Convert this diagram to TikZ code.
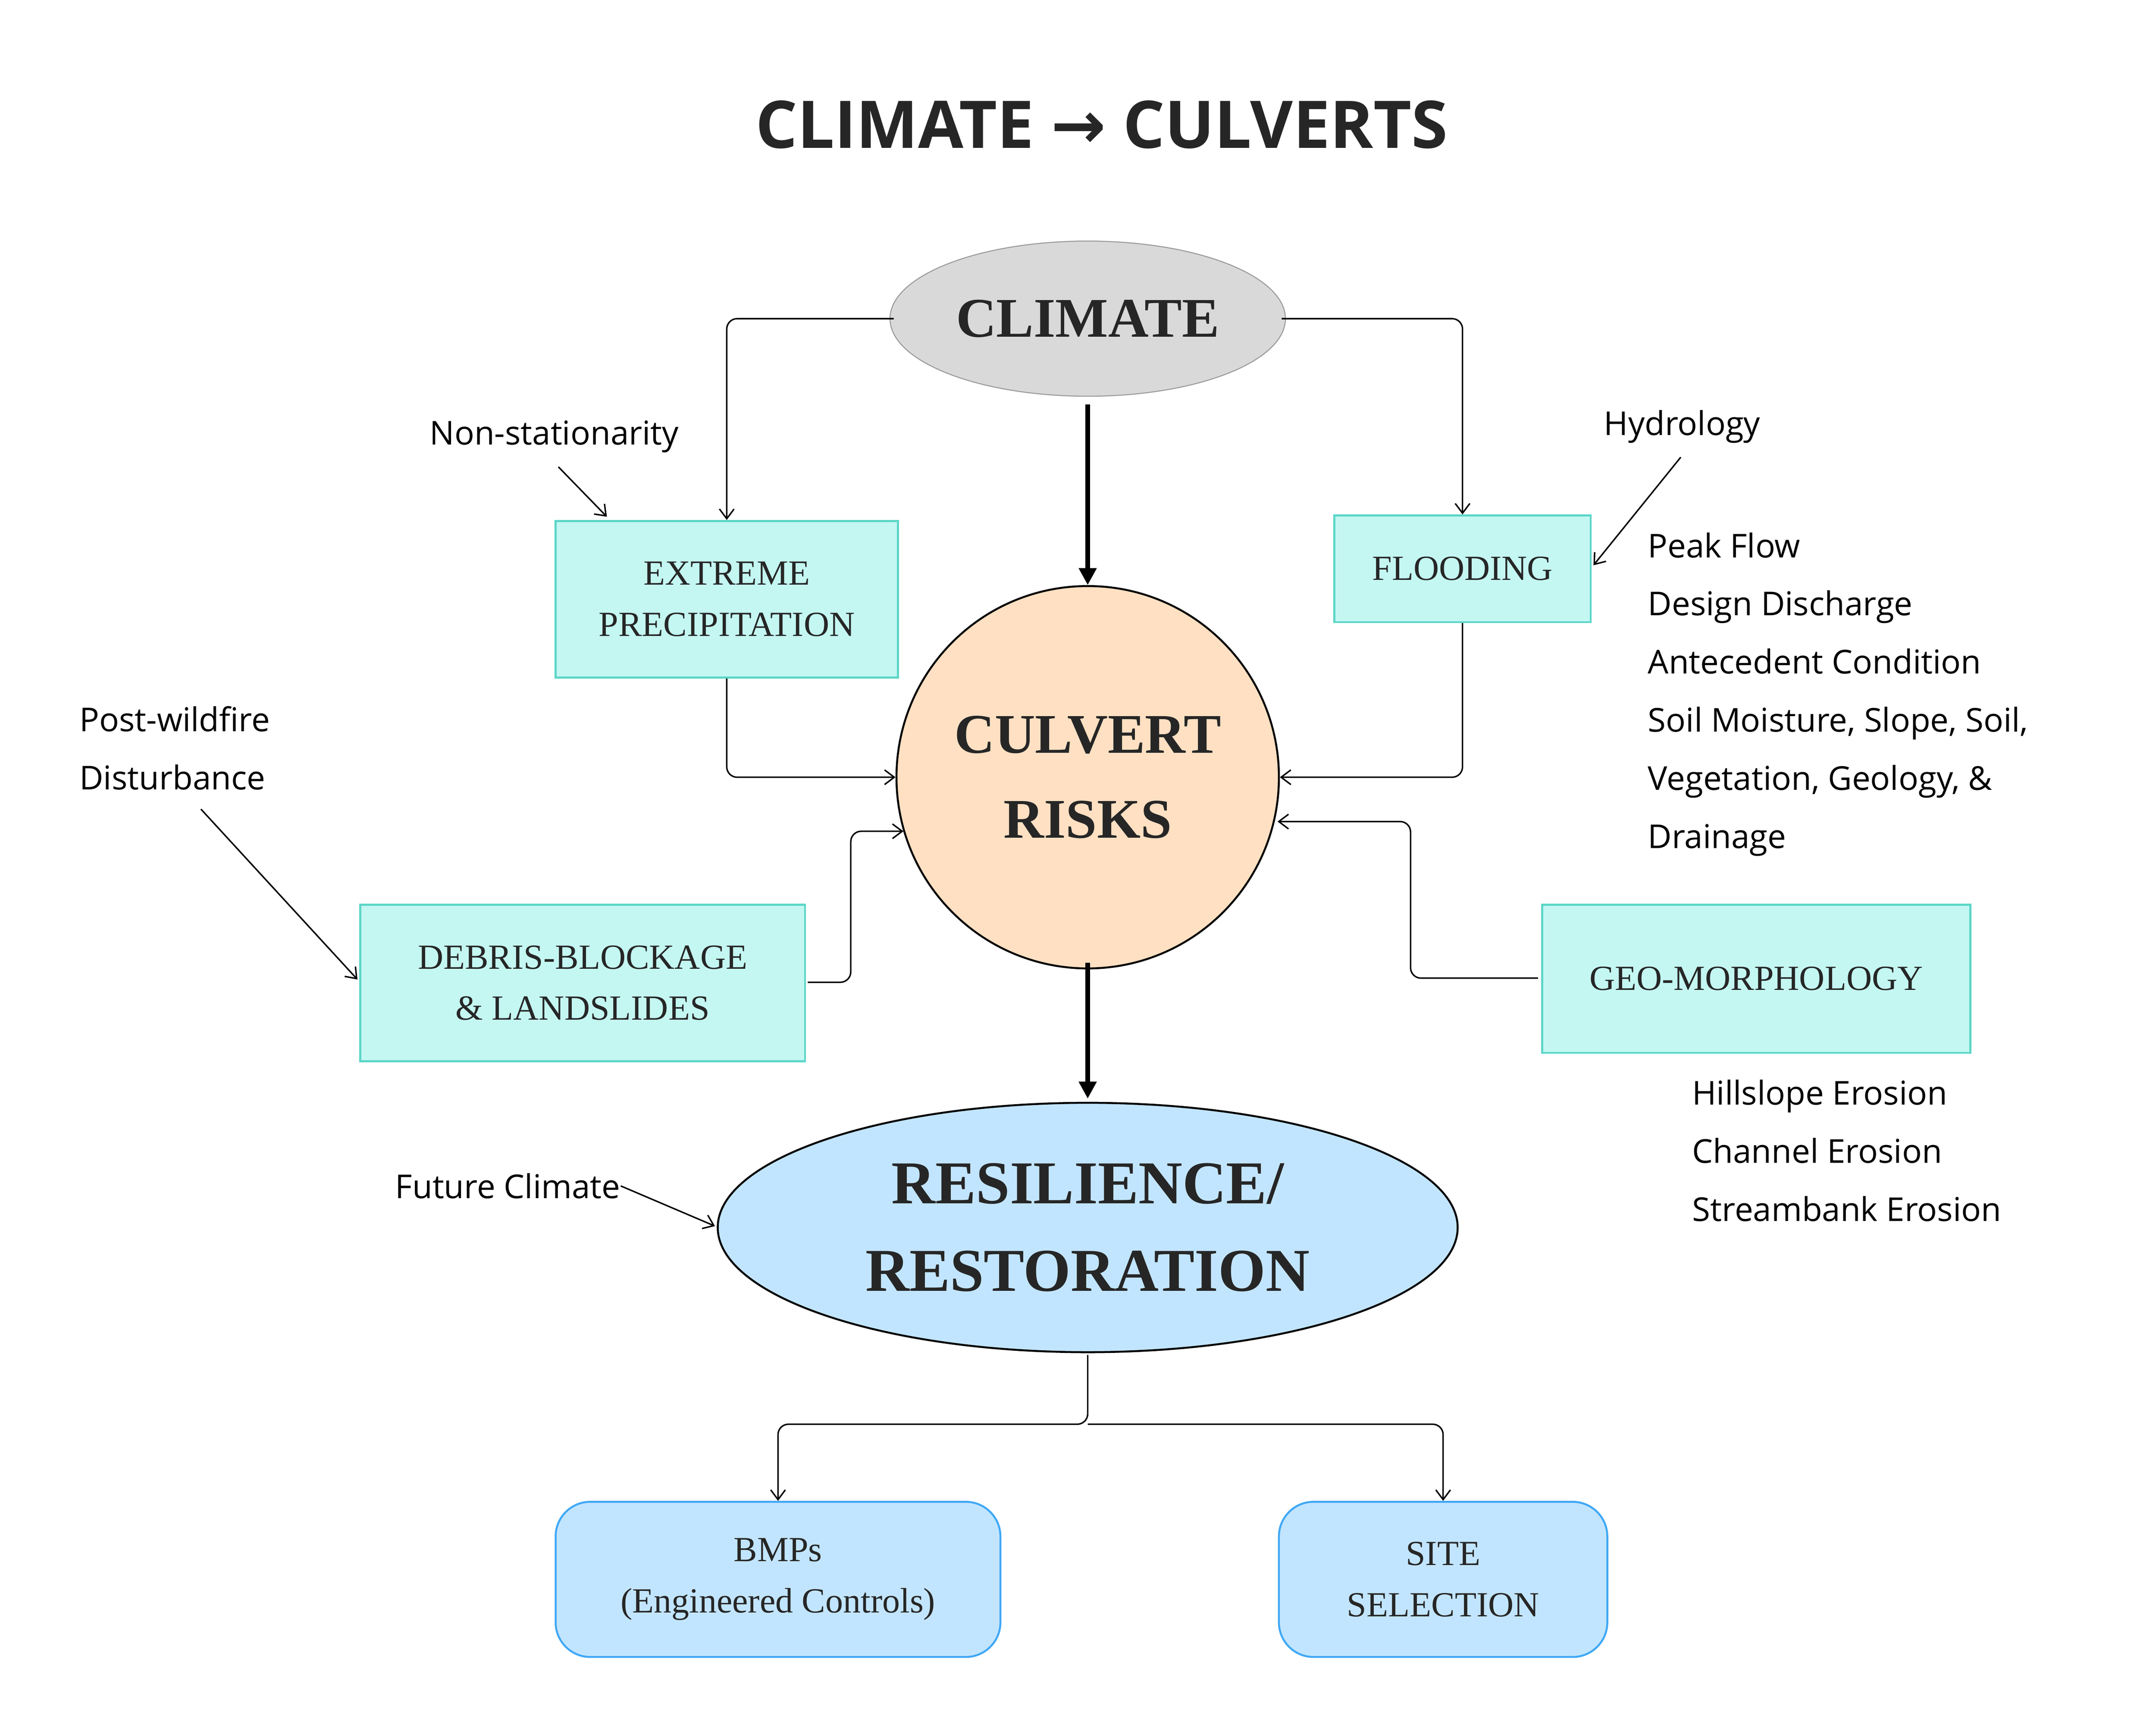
\documentclass[tikz,border=0pt]{standalone}
\usepackage{fontspec}
\setmainfont{Liberation Serif}
\setsansfont{Open Sans}
\newfontfamily\arrowfont{DejaVu Sans}
\usetikzlibrary{shapes.geometric,arrows.meta}
\definecolor{teal1}{HTML}{C4F7F2}
\definecolor{teal2}{HTML}{5CD6C8}
\definecolor{blue1}{HTML}{C2E5FF}
\definecolor{blue2}{HTML}{40A8F5}
\definecolor{peach}{HTML}{FFE0C2}
\definecolor{gray1}{HTML}{D9D9D9}
\definecolor{ink}{HTML}{262626}
\begin{document}
\begin{tikzpicture}[x=0.02cm,y=-0.02cm,
  box/.style={draw=teal2,fill=teal1,line width=0.8pt,font=\fontsize{14.5}{21}\selectfont,align=center,inner sep=0pt,text=ink},
  rbox/.style={draw=blue2,fill=blue1,line width=0.8pt,rounded corners=0.5cm,font=\fontsize{14.5}{21}\selectfont,align=center,inner sep=0pt,text=ink},
  lab/.style={font=\sffamily\fontsize{13.5}{23.9}\selectfont,text=black,inner sep=0pt},
  con/.style={draw,line width=0.6pt,rounded corners=0.15cm,-{Straight Barb[length=4pt,width=6pt]}},
  thick/.style={draw,line width=1.8pt,-{Triangle[length=7pt,width=7pt]}},
  big/.style={font=\bfseries\fontsize{23}{35}\selectfont,text=ink,align=center}]
\useasboundingbox (0,0) rectangle (1556,1245);
\node[font=\sffamily\bfseries\fontsize{27}{30}\selectfont,text=ink] (title) at (795,90) {CLIMATE {\arrowfont →} CULVERTS};
\node[ellipse,draw=gray!80,fill=gray1,minimum width=274*0.02cm,minimum height=112*0.02cm,big] (clim) at (785,230) {CLIMATE};
\node[circle,draw,fill=peach,line width=0.8pt,minimum size=276*0.02cm,big] (culv) at (785,561) {CULVERT\\RISKS};
\node[ellipse,draw,fill=blue1,line width=0.8pt,minimum width=534*0.02cm,minimum height=180*0.02cm,big,font=\bfseries\fontsize{25}{36}\selectfont] (res) at (785,886) {RESILIENCE/\\RESTORATION};
\node[box,minimum width=247*0.02cm,minimum height=113*0.02cm] (ext) at (524.5,432.5) {EXTREME\\PRECIPITATION};
\node[box,minimum width=185*0.02cm,minimum height=77*0.02cm] (flood) at (1055.5,410.5) {FLOODING};
\node[box,minimum width=321*0.02cm,minimum height=113*0.02cm] (deb) at (420.5,709.5) {DEBRIS-BLOCKAGE\\\& LANDSLIDES};
\node[box,minimum width=309*0.02cm,minimum height=107*0.02cm] (geo) at (1267.5,706.5) {GEO-MORPHOLOGY};
\node[rbox,minimum width=321*0.02cm,minimum height=112*0.02cm] (bmp) at (561.5,1140) {BMPs\\(Engineered Controls)};
\node[rbox,minimum width=237*0.02cm,minimum height=112*0.02cm] (site) at (1041.5,1140) {SITE\\SELECTION};
% labels
\node[lab] (ns) at (400,315) {Non-stationarity};
\node[lab] (hyd) at (1214,308) {Hydrology};
\node[lab,anchor=west,align=left] (pw) at (57,540) {Post-wildfire\\Disturbance};
\node[lab,anchor=east] (fc) at (448,856) {Future Climate};
\node[lab,anchor=north west,align=left] (hlist) at (1189,384) {Peak Flow\\Design Discharge\\Antecedent Condition\\Soil Moisture, Slope, Soil,\\Vegetation, Geology, \&\\Drainage};
\node[lab,anchor=north west,align=left] (glist) at (1221,779) {Hillslope Erosion\\Channel Erosion\\Streambank Erosion};
% coordinates
\coordinate (c1) at (645,230); \coordinate (c2) at (925,230);
\coordinate (r1) at (785,978);
\draw[con] (c1) -| (ext.north);
\draw[con] (c2) -| (flood.north);
\draw[thick] (785,292) -- (culv.north);
\draw[con] (ext.south) |- (culv.west);
\draw[con] (flood.south) |- (culv.east);
\coordinate (dd) at (583,709); \coordinate (dt) at (652,600);
\draw[con] (dd) -- (614,709) |- (dt);
\coordinate (gg) at (1110,706); \coordinate (gt) at (922,593);
\draw[con] (gg) -- (1018,706) |- (gt);
\draw[thick] (785,695) -- (785,793);
\draw[con] (r1) -- (785,1028) -| (bmp.north);
\draw[con] (785,1028) -| (site.north);
\coordinate (a1) at (403,337); \coordinate (a2) at (438,373);
\draw[con] (a1) -- (a2);
\coordinate (h1) at (1213,330); \coordinate (h2) at (1150,408);
\draw[con] (h1) -- (h2);
\coordinate (p1) at (145,584); \coordinate (p2) at (258,707);
\draw[con] (p1) -- (p2);
\coordinate (f2) at (516,885);
\draw[con] (fc.east) -- (f2);
\end{tikzpicture}
\end{document}
